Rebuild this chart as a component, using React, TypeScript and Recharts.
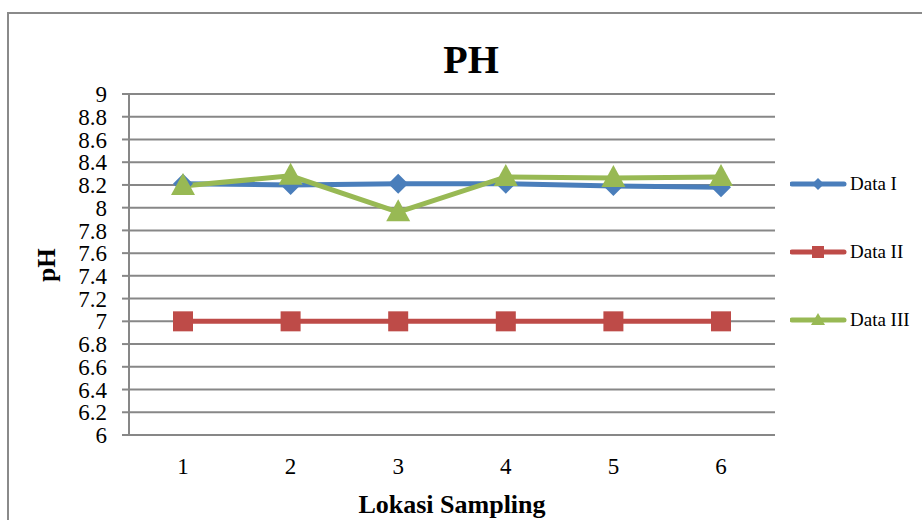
import React from 'react';
import { LineChart, Line, XAxis, YAxis, CartesianGrid } from 'recharts';

const categories = ['1', '2', '3', '4', '5', '6'];
const dataI = [8.21, 8.2, 8.21, 8.21, 8.19, 8.18];
const dataII = [7, 7, 7, 7, 7, 7];
const dataIII = [8.19, 8.28, 7.96, 8.27, 8.26, 8.27];
const yTicks = [6, 6.2, 6.4, 6.6, 6.8, 7, 7.2, 7.4, 7.6, 7.8, 8, 8.2, 8.4, 8.6, 8.8, 9];
const seriesNames = ['Data I', 'Data II', 'Data III'];
const colors = ['#4A7EBB', '#BE4B48', '#98B954'];

const data = categories.map((c, i) => ({ cat: c, d1: dataI[i], d2: dataII[i], d3: dataIII[i] }));

const FONT = '"Liberation Serif", "Times New Roman", serif';

const Diamond = (props: any) => {
  const { cx, cy } = props;
  if (cx == null || cy == null) return null;
  const r = 10;
  return <polygon points={`${cx},${cy - r} ${cx + r},${cy} ${cx},${cy + r} ${cx - r},${cy}`} fill={colors[0]} />;
};
const Square = (props: any) => {
  const { cx, cy } = props;
  if (cx == null || cy == null) return null;
  return <rect x={cx - 10} y={cy - 10} width={20} height={20} fill={colors[1]} />;
};
const Triangle = (props: any) => {
  const { cx, cy } = props;
  if (cx == null || cy == null) return null;
  return <polygon points={`${cx},${cy - 13} ${cx + 12},${cy + 9} ${cx - 12},${cy + 9}`} fill={colors[2]} />;
};

const legendIcon = (i: number) => {
  const c = colors[i];
  if (i === 0) return <polygon points="28,2 34,8 28,14 22,8" fill={c} />;
  if (i === 1) return <rect x={22} y={2} width={12} height={12} fill={c} />;
  return <polygon points="28,1 35,13 21,13" fill={c} />;
};

const LegendContent = () => (
  <div style={{ fontFamily: FONT, fontSize: 19, color: '#000' }}>
    {seriesNames.map((n, i) => (
      <div key={n} style={{ display: 'flex', alignItems: 'center', height: 16, marginBottom: i < 2 ? 52 : 0 }}>
        <svg width={58} height={16} style={{ display: 'block' }}>
          <line x1={2} y1={8} x2={54} y2={8} stroke={colors[i]} strokeWidth={5} strokeLinecap="round" />
          {legendIcon(i)}
        </svg>
        <span style={{ marginLeft: 2, lineHeight: '16px' }}>{n}</span>
      </div>
    ))}
  </div>
);

const fmt = (v: number) => String(Number(v.toFixed(1)));

export default function App() {
  return (
    <div style={{ position: 'absolute', left: 0, top: 0, width: 922, height: 520, background: '#fff', overflow: 'hidden' }}>
      <div style={{ position: 'absolute', left: 7, top: 12, width: 940, height: 540, border: '2px solid #8a8a8a', boxSizing: 'border-box' }} />
      <LineChart width={922} height={520} data={data} margin={{ top: 94, right: 147, bottom: 0, left: 69 }}>
        <CartesianGrid vertical={false} stroke="#878787" strokeWidth={2} />
        <XAxis
          dataKey="cat"
          height={85}
          padding={{ left: 54, right: 54 }}
          tickLine={false}
          tickSize={0}
          tickMargin={23}
          axisLine={{ stroke: '#878787', strokeWidth: 2 }}
          tick={{ fill: '#000', fontFamily: FONT, fontSize: 23 }}
        />
        <YAxis
          width={60}
          domain={[6, 9]}
          ticks={yTicks}
          interval={0}
          tickFormatter={fmt}
          tickSize={7}
          tickMargin={15}
          axisLine={{ stroke: '#878787', strokeWidth: 2 }}
          tickLine={{ stroke: '#878787', strokeWidth: 2 }}
          tick={{ fill: '#000', fontFamily: FONT, fontSize: 23 }}
        />
        <Line dataKey="d1" name={seriesNames[0]} stroke={colors[0]} strokeWidth={5} dot={<Diamond />} activeDot={false} isAnimationActive={false} />
        <Line dataKey="d2" name={seriesNames[1]} stroke={colors[1]} strokeWidth={5} dot={<Square />} activeDot={false} isAnimationActive={false} />
        <Line dataKey="d3" name={seriesNames[2]} stroke={colors[2]} strokeWidth={5} dot={<Triangle />} activeDot={false} isAnimationActive={false} />
      </LineChart>
      <div style={{ position: 'absolute', left: 790, top: 176, width: 130 }}>
        <LegendContent />
      </div>
      <div style={{ position: 'absolute', left: 0, width: 942, top: 36, textAlign: 'center', fontFamily: FONT, fontWeight: 'bold', fontSize: 40, lineHeight: '48px' }}>PH</div>
      <div style={{ position: 'absolute', left: 252, width: 400, top: 490, textAlign: 'center', fontFamily: FONT, fontWeight: 'bold', fontSize: 26, lineHeight: '30px' }}>Lokasi Sampling</div>
      <div style={{ position: 'absolute', left: 47, top: 265, width: 0, height: 0 }}>
        <div style={{ position: 'absolute', left: -50, top: -15, width: 100, textAlign: 'center', transform: 'rotate(-90deg)', fontFamily: FONT, fontWeight: 'bold', fontSize: 25, lineHeight: '30px' }}>pH</div>
      </div>
    </div>
  );
}
